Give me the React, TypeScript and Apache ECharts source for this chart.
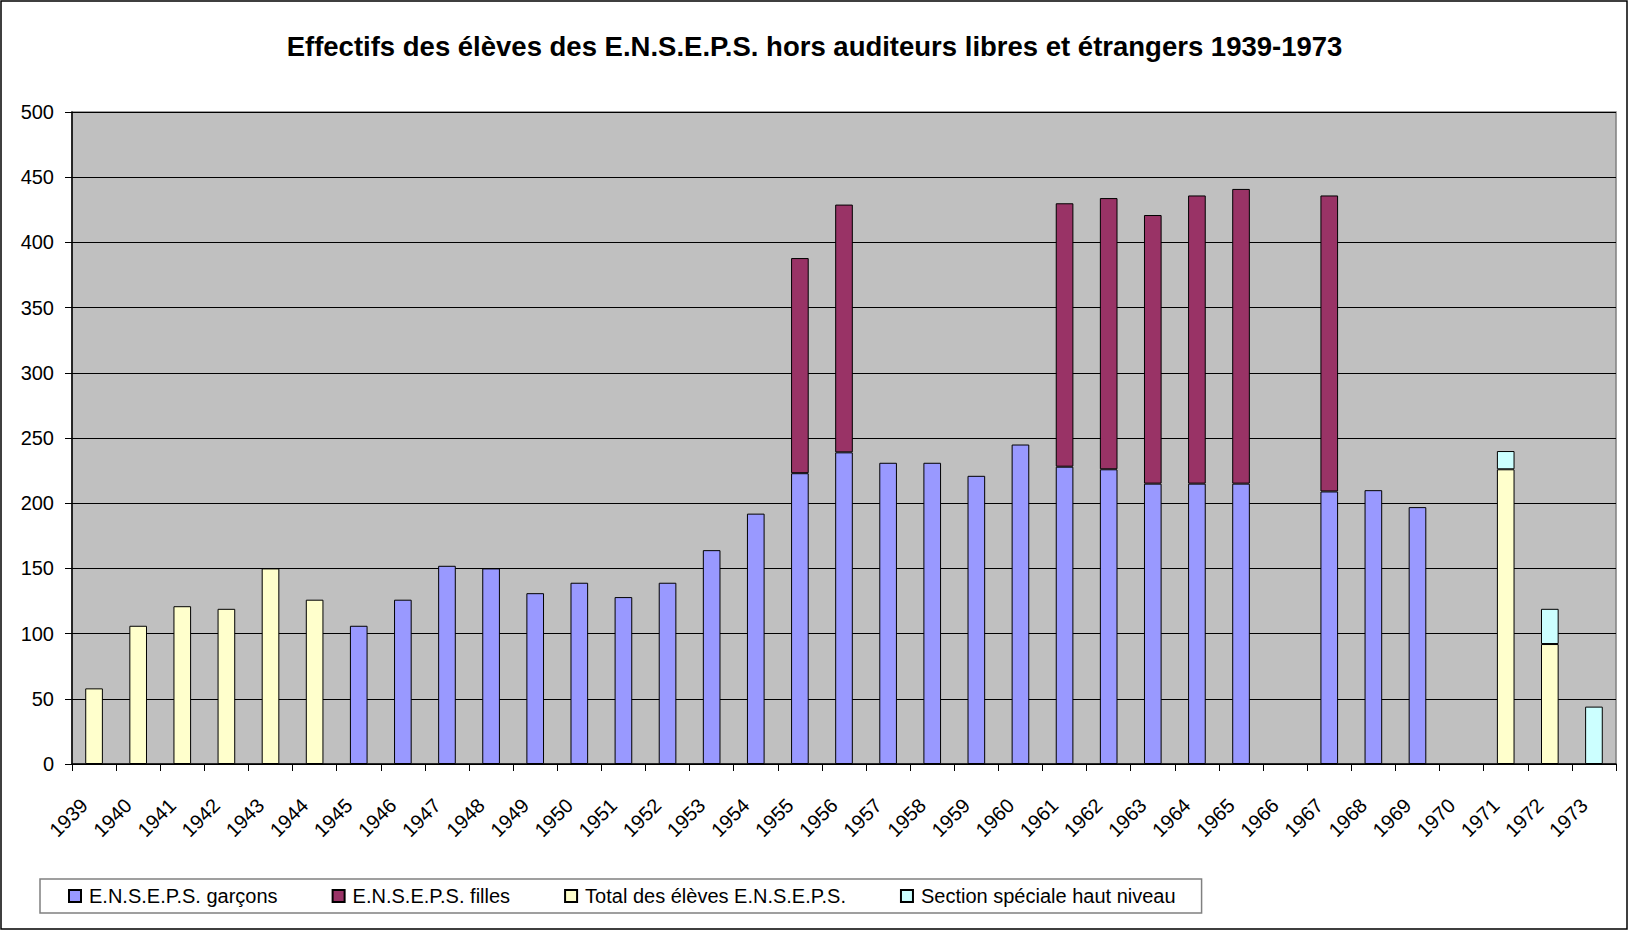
import React, { useEffect, useRef } from "react";
import * as echarts from "echarts";

const years = [
  "1939", "1940", "1941", "1942", "1943", "1944", "1945", "1946", "1947", "1948",
  "1949", "1950", "1951", "1952", "1953", "1954", "1955", "1956", "1957", "1958",
  "1959", "1960", "1961", "1962", "1963", "1964", "1965", "1966", "1967", "1968",
  "1969", "1970", "1971", "1972", "1973",
];

const garcons = [
  null, null, null, null, null, null, 106, 126, 152, 150,
  131, 139, 128, 139, 164, 192, 223, 239, 231, 231,
  221, 245, 228, 226, 215, 215, 215, null, 209, 210,
  197, null, null, null, null,
];

const filles = [
  null, null, null, null, null, null, null, null, null, null,
  null, null, null, null, null, null, 165, 190, null, null,
  null, null, 202, 208, 206, 221, 226, null, 227, null,
  null, null, null, null, null,
];

const total = [
  58, 106, 121, 119, 150, 126, null, null, null, null,
  null, null, null, null, null, null, null, null, null, null,
  null, null, null, null, null, null, null, null, null, null,
  null, null, 226, 92, null,
];

const section = [
  null, null, null, null, null, null, null, null, null, null,
  null, null, null, null, null, null, null, null, null, null,
  null, null, null, null, null, null, null, null, null, null,
  null, null, 14, 27, 44,
];

const yTicks = { min: 0, max: 500, interval: 50 };

const FONT = "'Liberation Sans', Arial, sans-serif";

export default function App() {
  const ref = useRef<HTMLDivElement>(null);

  useEffect(() => {
    if (!ref.current) return;
    const chart = echarts.init(ref.current, undefined, { renderer: "svg" });
    const mk = (name: string, data: (number | null)[], color: string) => ({
      name,
      type: "bar",
      stack: "all",
      data,
      barWidth: "40%",
      itemStyle: { color, borderColor: "#000", borderWidth: 1 },
    });
    chart.setOption({
      animation: false,
      backgroundColor: "#fff",
      textStyle: { fontFamily: FONT },
      title: {
        text: "Effectifs des élèves des E.N.S.E.P.S. hors auditeurs libres et étrangers 1939-1973",
        left: "center",
        top: 27,
        textStyle: { fontFamily: FONT, fontSize: 27.5, fontWeight: "bold", color: "#000" },
      },
      legend: {
        left: 40,
        top: 879,
        itemWidth: 12,
        itemHeight: 12,
        itemGap: 54,
        padding: [7, 26, 7, 28],
        borderColor: "#808080",
        borderWidth: 1.5,
        icon: "rect",
        textStyle: { fontFamily: FONT, fontSize: 20, color: "#000", padding: [0, 0, 0, 3] },
        data: [
          "E.N.S.E.P.S. garçons",
          "E.N.S.E.P.S. filles",
          "Total des élèves E.N.S.E.P.S.",
          "Section spéciale haut niveau",
        ],
      },
      graphic: [
        {
          type: "rect",
          shape: { x: 1, y: 1, width: 1626, height: 928 },
          style: { fill: "none", stroke: "#000", lineWidth: 1.5 },
          silent: true,
        },
      ],
      grid: {
        left: 72,
        right: 13,
        top: 112,
        bottom: 167,
        show: true,
        backgroundColor: "#C0C0C0",
        borderColor: "#808080",
        borderWidth: 1.5,
      },
      xAxis: {
        type: "category",
        data: years,
        boundaryGap: true,
        axisLine: { lineStyle: { color: "#000", width: 1.5 } },
        axisTick: { show: true, alignWithLabel: false, interval: 0, length: 7, lineStyle: { color: "#000" } },
        axisLabel: {
          interval: 0,
          rotate: 45,
          margin: 28,
          padding: [0, 14, 0, 0],
          fontFamily: FONT,
          fontSize: 20,
          color: "#000",
        },
      },
      yAxis: {
        type: "value",
        min: yTicks.min,
        max: yTicks.max,
        interval: yTicks.interval,
        axisLine: { show: true, lineStyle: { color: "#000", width: 1.5 } },
        axisTick: { show: true, length: 7, lineStyle: { color: "#000" } },
        axisLabel: { margin: 18, fontFamily: FONT, fontSize: 20, color: "#000" },
        splitLine: { show: true, lineStyle: { color: "#000", width: 1 } },
      },
      series: [
        mk("E.N.S.E.P.S. garçons", garcons, "#9999FF"),
        mk("E.N.S.E.P.S. filles", filles, "#993366"),
        mk("Total des élèves E.N.S.E.P.S.", total, "#FFFFCC"),
        mk("Section spéciale haut niveau", section, "#CCFFFF"),
      ],
    });
    return () => chart.dispose();
  }, []);

  return (
    <div
      ref={ref}
      style={{ position: "fixed", left: 0, top: 0, width: 1629, height: 931, background: "#fff" }}
    />
  );
}
